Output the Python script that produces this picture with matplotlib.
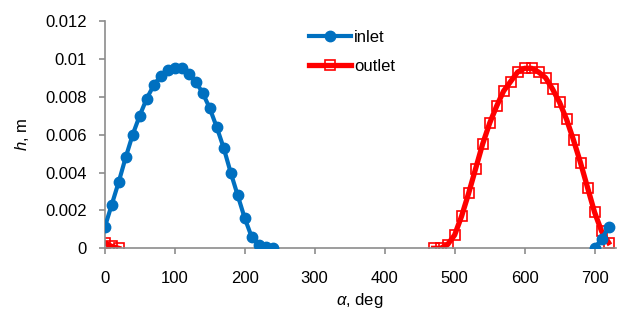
import numpy as np
import matplotlib
matplotlib.use('Agg')
import matplotlib.pyplot as plt
from matplotlib.ticker import FuncFormatter

plt.rcParams['font.family'] = ['Liberation Sans', 'DejaVu Sans']
plt.rcParams['mathtext.fontset'] = 'custom'
plt.rcParams['mathtext.rm'] = 'Liberation Sans'
plt.rcParams['mathtext.it'] = 'Liberation Sans:italic'

# crank angle, deg (gaps = no data)
inlet_a = [0, 10, 20, 30, 40, 50, 60, 70, 80, 90, 100, 110, 120, 130, 140, 150,
           160, 170, 180, 190, 200, 210, 220, 230, 240, np.nan, 700, 710, 720]
inlet_h = [0.0011, 0.0023, 0.0035, 0.0048, 0.0060, 0.0070, 0.0079, 0.0086, 0.0091,
           0.0094, 0.0095, 0.0095, 0.0092, 0.0088, 0.0082, 0.0074, 0.0064, 0.0053,
           0.0040, 0.0028, 0.0016, 0.0006, 0.0002, 0.00005, 0.0, np.nan, 0.0, 0.0005, 0.0011]

outlet_a = [0, 10, 20, np.nan, 470, 480, 490, 500, 510, 520, 530, 540, 550, 560, 570,
            580, 590, 600, 610, 620, 630, 640, 650, 660, 670, 680, 690, 700, 710, 720]
outlet_h = [0.0003, 0.0001, 0.0, np.nan, 0.0, 0.0, 0.0002, 0.0007, 0.0017, 0.0029,
            0.0042, 0.0055, 0.0066, 0.0075, 0.0083, 0.0088, 0.0093, 0.0095, 0.0095,
            0.0093, 0.0090, 0.0084, 0.0077, 0.0068, 0.0057, 0.0045, 0.0032, 0.0019,
            0.0009, 0.0003]

fig = plt.figure(figsize=(6.17, 3.2), dpi=100)
ax = fig.add_axes([0.1697, 0.224, 0.828, 0.7106])

ax.plot(inlet_a, inlet_h, color='#0070C0', lw=3, marker='o', ms=7.5,
        label='inlet', zorder=3)
ax.plot(outlet_a, outlet_h, color='#FF0000', lw=3.8, marker='s', ms=7,
        mfc='none', mec='#FF0000', mew=1.2, label='outlet', zorder=2)

ax.set_xlim(0, 730)
ax.set_ylim(0, 0.012)
ax.set_xticks(np.arange(0, 701, 100))
ax.set_yticks(np.arange(0, 0.0121, 0.002))
ax.yaxis.set_major_formatter(FuncFormatter(lambda v, p: '%g' % round(v, 6)))

for s in ['top', 'right']:
    ax.spines[s].set_visible(False)
for s in ['left', 'bottom']:
    ax.spines[s].set_color('#8c8c8c')
    ax.spines[s].set_linewidth(1.2)
ax.tick_params(colors='#8c8c8c', labelcolor='black', length=4, width=1.2,
               labelsize=12, direction='out', pad=9)
ax.tick_params(axis='x', pad=12)

ax.set_xlabel(r'$\alpha$, deg', fontsize=12, labelpad=4)
ax.set_ylabel(r'$h$, m', fontsize=12, labelpad=10)

ax.legend(loc='upper left', bbox_to_anchor=(301 / 617, 1 - 22 / 320),
          bbox_transform=fig.transFigure, frameon=False, fontsize=12,
          handlelength=2.5, handletextpad=0.2, labelspacing=0.8, borderpad=0)

fig.savefig('out.png', dpi=100)
